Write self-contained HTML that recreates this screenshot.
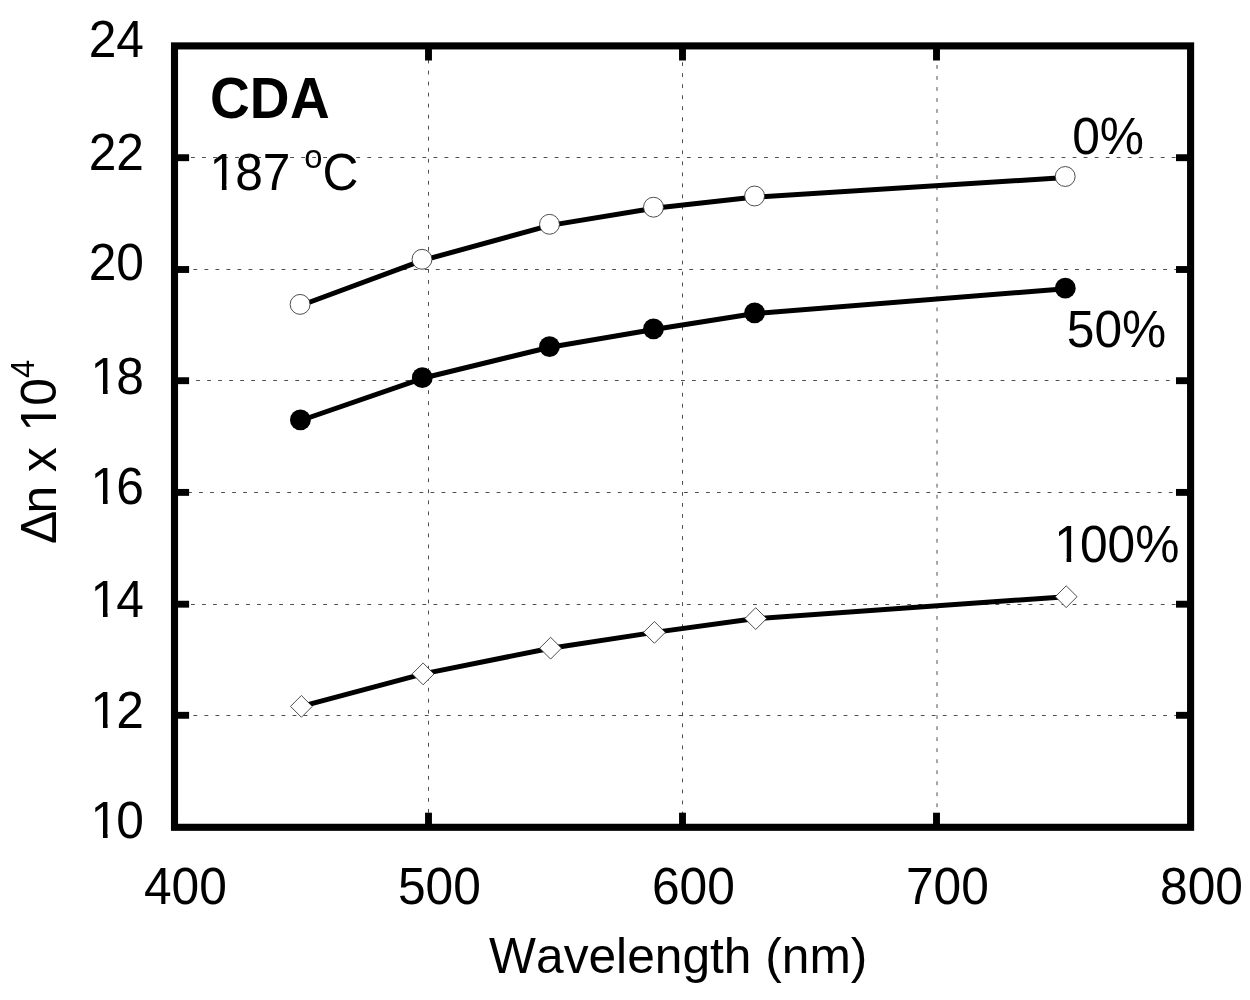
<!DOCTYPE html>
<html lang="en">
<head>
<meta charset="utf-8">
<title>CDA birefringence vs wavelength</title>
<style>
html,body{margin:0;padding:0;background:#fff;}
body{width:1250px;height:1000px;overflow:hidden;}
svg{display:block;filter:grayscale(1);}
svg text{font-family:"Liberation Sans",Arial,Helvetica,sans-serif;fill:#000;font-kerning:none;}
.grid{stroke:#4e4e4e;stroke-width:1;stroke-dasharray:3.8 7.22;fill:none;}
.ax{stroke:#000;stroke-width:7.1;fill:none;}
.tk{stroke:#000;stroke-width:6.9;fill:none;}
.ln{stroke:#000;stroke-width:5;fill:none;stroke-linejoin:round;}
.oc{fill:#fff;stroke:#2e2e2e;stroke-width:0.85;}
.fc{fill:#000;stroke:none;}
</style>
</head>
<body>
<svg width="1250" height="1000" viewBox="0 0 1250 1000">
<defs>
<clipPath id="c1"><path clip-rule="evenodd" d="M-400-400h1600v800h-1600zM3.39 -4.91H14.30V2.00H3.39zM18.89 -4.91H29.73V2.00H18.89z"/></clipPath>
<clipPath id="c2"><path clip-rule="evenodd" d="M-400-400h1600v800h-1600zM114.10 -4.91H125.00V2.00H114.10zM129.59 -4.91H140.44V2.00H129.59z"/></clipPath>
</defs>
<rect x="0" y="0" width="1250" height="1000" fill="#fff"/>
<g class="grid">
<line x1="180.0" y1="157.50" x2="1187" y2="157.50"/>
<line x1="182.4" y1="269.50" x2="1187" y2="269.50"/>
<line x1="185.1" y1="380.50" x2="1187" y2="380.50"/>
<line x1="177.05" y1="492.50" x2="1187" y2="492.50"/>
<line x1="180.0" y1="604.50" x2="1187" y2="604.50"/>
<line x1="182.4" y1="715.50" x2="1187" y2="715.50"/>
<line x1="428.50" y1="48.6" x2="428.50" y2="823.8"/>
<line x1="682.50" y1="51.2" x2="682.50" y2="823.8"/>
<line x1="937.00" y1="54.0" x2="937.00" y2="823.8"/>
</g>
<polyline class="ln" points="300.6,305.5 422.5,260.4 550.0,225.4 654.0,208.3 755.1,197.1 1065.7,177.6"/>
<polyline class="ln" points="300.7,420.5 422.6,378.3 549.8,347.2 653.8,329.5 754.9,313.5 1065.6,288.8"/>
<polyline class="ln" points="301.4,706.4 423.1,673.9 550.6,648.2 654.4,632.4 755.7,618.6 1066.2,596.7"/>
<rect class="ax" x="174.5" y="45.9" width="1016.10" height="781.40"/>
<g class="tk">
<line x1="174.5" y1="157.70" x2="189.10" y2="157.70"/>
<line x1="1190.6" y1="157.70" x2="1176.00" y2="157.70"/>
<line x1="174.5" y1="269.50" x2="189.10" y2="269.50"/>
<line x1="1190.6" y1="269.50" x2="1176.00" y2="269.50"/>
<line x1="174.5" y1="380.70" x2="189.10" y2="380.70"/>
<line x1="1190.6" y1="380.70" x2="1176.00" y2="380.70"/>
<line x1="174.5" y1="492.40" x2="189.10" y2="492.40"/>
<line x1="1190.6" y1="492.40" x2="1176.00" y2="492.40"/>
<line x1="174.5" y1="604.20" x2="189.10" y2="604.20"/>
<line x1="1190.6" y1="604.20" x2="1176.00" y2="604.20"/>
<line x1="174.5" y1="715.30" x2="189.10" y2="715.30"/>
<line x1="1190.6" y1="715.30" x2="1176.00" y2="715.30"/>
<line x1="428.50" y1="45.9" x2="428.50" y2="60.50"/>
<line x1="428.50" y1="827.3" x2="428.50" y2="812.70"/>
<line x1="682.50" y1="45.9" x2="682.50" y2="60.50"/>
<line x1="682.50" y1="827.3" x2="682.50" y2="812.70"/>
<line x1="936.50" y1="45.9" x2="936.50" y2="60.50"/>
<line x1="936.50" y1="827.3" x2="936.50" y2="812.70"/>
</g>
<circle class="oc" cx="300.1" cy="304.4" r="9.95"/>
<circle class="oc" cx="422.0" cy="259.3" r="9.95"/>
<circle class="oc" cx="549.5" cy="224.3" r="9.95"/>
<circle class="oc" cx="653.5" cy="207.2" r="9.95"/>
<circle class="oc" cx="754.6" cy="196.0" r="9.95"/>
<circle class="oc" cx="1065.2" cy="176.5" r="9.95"/>
<circle class="fc" cx="300.4" cy="419.9" r="10.4"/>
<circle class="fc" cx="422.3" cy="377.7" r="10.4"/>
<circle class="fc" cx="549.5" cy="346.6" r="10.4"/>
<circle class="fc" cx="653.5" cy="328.9" r="10.4"/>
<circle class="fc" cx="754.6" cy="312.9" r="10.4"/>
<circle class="fc" cx="1065.3" cy="288.2" r="10.4"/>
<path class="oc" d="M290.5 706.4L301.4 695.5L312.3 706.4L301.4 717.3Z"/>
<path class="oc" d="M412.2 673.9L423.1 663.0L434.0 673.9L423.1 684.8Z"/>
<path class="oc" d="M539.7 648.2L550.6 637.3L561.5 648.2L550.6 659.1Z"/>
<path class="oc" d="M643.5 632.4L654.4 621.5L665.3 632.4L654.4 643.3Z"/>
<path class="oc" d="M744.8 618.6L755.7 607.7L766.6 618.6L755.7 629.5Z"/>
<path class="oc" d="M1055.3 596.7L1066.2 585.8L1077.1 596.7L1066.2 607.6Z"/>
<g class="ylab">
<text transform="translate(88.72,57.00) scale(1,1.04)" font-size="49.7" xml:space="preserve">24</text>
<text transform="translate(88.72,170.20) scale(1,1.04)" font-size="49.7" xml:space="preserve">22</text>
<text transform="translate(88.72,280.40) scale(1,1.04)" font-size="49.7" xml:space="preserve">20</text>
<text transform="translate(88.72,393.60) scale(1,1.04)" font-size="49.7" x="1.90 27.64" clip-path="url(#c1)" xml:space="preserve">18</text>
<text transform="translate(88.72,503.80) scale(1,1.04)" font-size="49.7" x="1.90 27.64" clip-path="url(#c1)" xml:space="preserve">16</text>
<text transform="translate(88.72,617.00) scale(1,1.04)" font-size="49.7" x="1.90 27.64" clip-path="url(#c1)" xml:space="preserve">14</text>
<text transform="translate(88.72,727.80) scale(1,1.04)" font-size="49.7" x="1.90 27.64" clip-path="url(#c1)" xml:space="preserve">12</text>
<text transform="translate(88.72,837.80) scale(1,1.04)" font-size="49.7" x="1.90 27.64" clip-path="url(#c1)" xml:space="preserve">10</text>
</g>
<g class="xlab">
<text transform="translate(143.98,903.80) scale(1,1.04)" font-size="49.7" xml:space="preserve">400</text>
<text transform="translate(397.98,903.80) scale(1,1.04)" font-size="49.7" xml:space="preserve">500</text>
<text transform="translate(651.98,903.80) scale(1,1.04)" font-size="49.7" xml:space="preserve">600</text>
<text transform="translate(905.98,903.80) scale(1,1.04)" font-size="49.7" xml:space="preserve">700</text>
<text transform="translate(1160.08,903.80) scale(1,1.04)" font-size="49.7" xml:space="preserve">800</text>
</g>
<text transform="translate(489.10,973.10) scale(1,1.0)" font-size="49.7" xml:space="preserve">Wavelength (nm)</text>
<text transform="translate(56.30,544.00) rotate(-90) scale(1,1.02)" font-size="49.7" x="0.00 30.60 58.24 72.05 96.90 112.61 138.35" clip-path="url(#c2)" xml:space="preserve">Δn x 10<tspan font-size="32.8" dy="-21.4">4</tspan></text>
<text transform="translate(210.00,117.90) scale(1,1.04)" font-size="55" font-weight="bold" x="0.00 39.72 80.04" xml:space="preserve">CDA</text>
<text transform="translate(207.60,189.60) scale(1,1.04)" font-size="49.7" x="1.90 27.64" clip-path="url(#c1)" xml:space="preserve">187 <tspan font-size="32.8" dy="-21.1">o</tspan><tspan dy="21.1">C</tspan></text>
<text transform="translate(1072.20,154.30) scale(1,1.04)" font-size="49.7" xml:space="preserve">0%</text>
<text transform="translate(1066.80,347.20) scale(1,1.04)" font-size="49.7" xml:space="preserve">50%</text>
<text transform="translate(1052.30,562.20) scale(1,1.04)" font-size="49.7" x="1.90 27.64" clip-path="url(#c1)" xml:space="preserve">100%</text>
</svg>
</body>
</html>
